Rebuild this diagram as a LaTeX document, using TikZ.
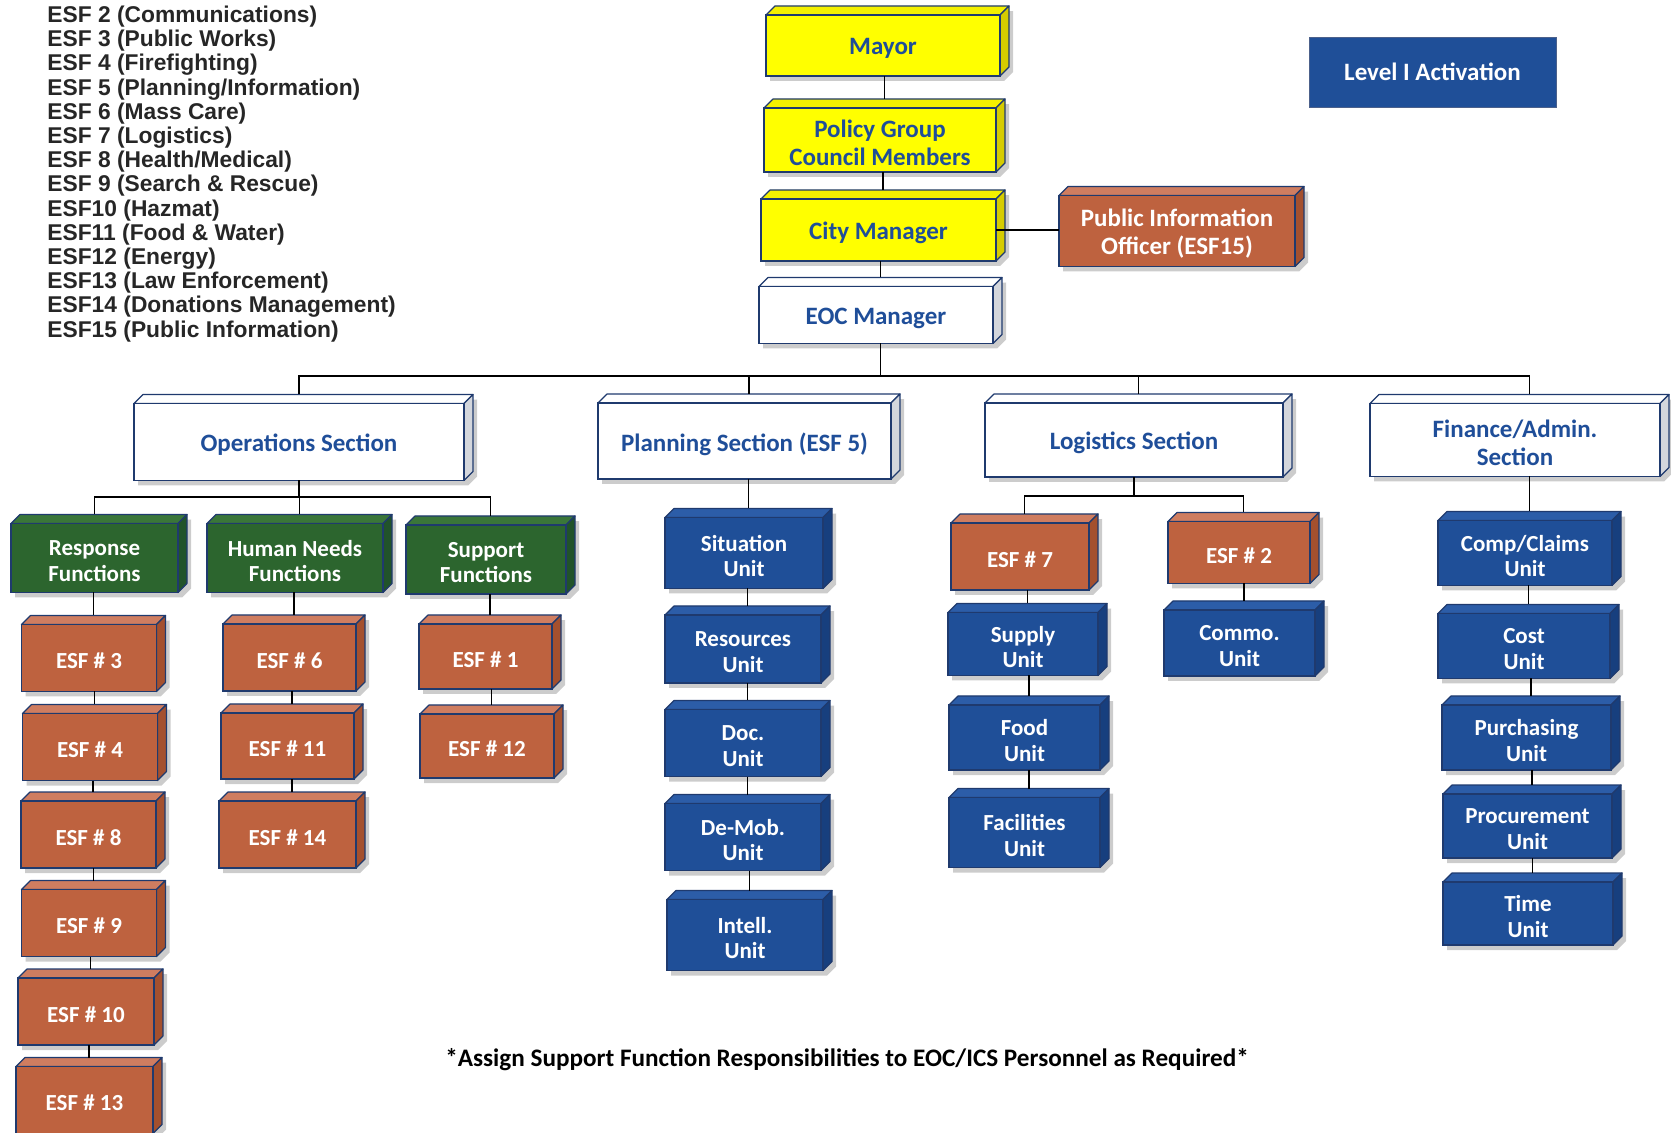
\documentclass[tikz,border=0pt]{standalone}
\usepackage{fontspec}
\setmainfont{Carlito}
\newfontfamily\listfont{Liberation Sans}
\definecolor{edgec}{HTML}{1F3A6E}
\definecolor{textblue}{HTML}{1F4E99}
\definecolor{yelfront}{HTML}{FFFF00}
\definecolor{yeltop}{HTML}{F4F000}
\definecolor{yelside}{HTML}{D6CC00}
\definecolor{yeltext}{HTML}{1F4E99}
\definecolor{whtfront}{HTML}{FFFFFF}
\definecolor{whttop}{HTML}{FFFFFF}
\definecolor{whtside}{HTML}{D3D6DC}
\definecolor{whttext}{HTML}{1F4E99}
\definecolor{orgfront}{HTML}{BE623F}
\definecolor{orgtop}{HTML}{CF7D60}
\definecolor{orgside}{HTML}{A4502E}
\definecolor{orgtext}{HTML}{FFFFFF}
\definecolor{grnfront}{HTML}{2C652E}
\definecolor{grntop}{HTML}{3A7639}
\definecolor{grnside}{HTML}{21532A}
\definecolor{grntext}{HTML}{FFFFFF}
\definecolor{blufront}{HTML}{1F4F98}
\definecolor{blutop}{HTML}{2C5DA8}
\definecolor{bluside}{HTML}{173F7E}
\definecolor{blutext}{HTML}{FFFFFF}
\def\cubedepth{9}
\tikzset{
  cubeedge/.style={draw=edgec, line width=0.6pt, line join=round},
  cubeshadow/.style={fill=black!50, opacity=0.4},
  cubefront/.style={draw=edgec, line width=0.6pt, inner sep=0pt, outer sep=0pt},
  cubetext/.style={inner sep=0pt, align=center, font=\bfseries\fontsize{11.5}{12.8}\selectfont},
  bigf/.style={font=\bfseries\fontsize{12.5}{14}\selectfont},
  link/.style={draw=black, line width=0.75pt},
  listline/.style={anchor=base west, inner sep=0pt,
    font=\listfont\bfseries\fontsize{11.4}{12}\selectfont, text=black!85},
  flatbox/.style={draw=edgec!80, line width=0.4pt, fill=blufront, text=white,
    inner sep=0pt, font=\bfseries\fontsize{12.5}{14}\selectfont},
  notetext/.style={font=\bfseries\fontsize{12.6}{14}\selectfont, text=black}
}
% \cube[text opts]{type}{name}{cx}{cy}{w}{h}{text}
\newcommand\cube[8][]{%
  \pgfmathsetmacro\xa{#4-#6/2}\pgfmathsetmacro\xb{#4+#6/2}%
  \pgfmathsetmacro\ya{#5-#7/2}\pgfmathsetmacro\yb{#5+#7/2}%
  \fill[cubeshadow] (\xa+4,\yb+5) -- (\xa+4,\ya+5) -- (\xb+\cubedepth+4,\ya-\cubedepth+5)
     -- (\xb+\cubedepth+4,\yb-\cubedepth+5) -- (\xb+4,\yb+5) -- cycle;
  \filldraw[cubeedge, fill=#2top] (\xa,\ya) -- (\xa+\cubedepth,\ya-\cubedepth)
     -- (\xb+\cubedepth,\ya-\cubedepth) -- (\xb,\ya) -- cycle;
  \filldraw[cubeedge, fill=#2side] (\xb,\ya) -- (\xb+\cubedepth,\ya-\cubedepth)
     -- (\xb+\cubedepth,\yb-\cubedepth) -- (\xb,\yb) -- cycle;
  \node[cubefront, fill=#2front, minimum width=#6*0.5pt,
     minimum height=#7*0.5pt] (#3) at (#4,#5) {};
  \node[cubetext, text=#2text, #1] (#3-txt) at (#4,#5+3) {#8};
  \coordinate (#3-t) at (#4+\cubedepth/2,\ya-\cubedepth);
}
\begin{document}
\begin{tikzpicture}[x=0.5pt,y=-0.5pt]
\useasboundingbox (0,0) rectangle (1671,1133);
% ESF list
\foreach \t [count=\i from 0] in {ESF 2 (Communications), ESF 3 (Public Works),
  ESF 4 (Firefighting), ESF 5 (Planning/Information), ESF 6 (Mass Care),
  ESF 7 (Logistics), ESF 8 (Health/Medical), ESF 9 (Search \& Rescue),
  ESF10 (Hazmat), ESF11 (Food \& Water), ESF12 (Energy), ESF13 (Law Enforcement),
  ESF14 (Donations Management), ESF15 (Public Information)}
  \node[listline] (lst\i) at (47,{22.5+24.2*\i}) {\t};
% top chain
\cube[bigf]{yel}{mayor}{883}{45.5}{234}{61}{Mayor}
\cube[bigf]{yel}{policy}{880}{140}{232}{64}{Policy Group\\Council Members}
\cube[bigf]{yel}{city}{878.5}{230}{235}{62}{City Manager}
\cube[bigf]{wht}{eoc}{876}{315}{234}{57}{EOC Manager}
\cube[bigf]{org}{pio}{1177}{231}{236}{71}{Public Information\\Officer (ESF15)}
\node[flatbox, minimum width=247*0.5pt, minimum height=70*0.5pt] (level) at (1432.5,72) {Level I Activation};
% sections
\cube[bigf]{wht}{ops}{299}{442}{330}{77}{Operations Section}
\cube[bigf]{wht}{plan}{744.5}{441}{293}{76}{Planning Section (ESF 5)}
\cube[bigf]{wht}{log}{1134}{440}{298}{74}{Logistics Section}
\cube[bigf]{wht}{fin}{1515}{440}{290}{73}{Finance/Admin.\\Section}
% operations groups
\cube{grn}{resp}{94.5}{558}{167}{69}{Response\\Functions}
\cube{grn}{human}{295}{558}{176}{69}{Human Needs\\Functions}
\cube{grn}{supp}{486}{559.5}{160}{69}{Support\\Functions}
\cube{org}{esf3}{89}{658}{135}{67}{ESF \# 3}
\cube{org}{esf4}{90}{747}{135}{67}{ESF \# 4}
\cube{org}{esf8}{88.5}{834.5}{135}{67}{ESF \# 8}
\cube{org}{esf9}{89}{923}{135}{67}{ESF \# 9}
\cube{org}{esf10}{86}{1011.5}{136}{67}{ESF \# 10}
\cube{org}{esf13}{84.5}{1100}{137}{67}{ESF \# 13}
\cube{org}{esf6}{289.5}{657.5}{133}{67}{ESF \# 6}
\cube{org}{esf11}{287.5}{746}{133}{66}{ESF \# 11}
\cube{org}{esf14}{287.5}{834.5}{137}{67}{ESF \# 14}
\cube{org}{esf1}{485.5}{656.5}{133}{65}{ESF \# 1}
\cube{org}{esf12}{487}{746}{134}{64}{ESF \# 12}
% planning units
\cube{blu}{sit}{744}{553}{158}{71}{Situation\\Unit}
\cube{blu}{res}{743}{649}{156}{68}{Resources\\Unit}
\cube{blu}{doc}{743}{743}{156}{67}{Doc.\\Unit}
\cube{blu}{demob}{743}{837}{156}{67}{De-Mob.\\Unit}
\cube{blu}{intell}{745}{935}{156}{71}{Intell.\\Unit}
% logistics
\cube{org}{esf7}{1020}{556.5}{138}{67}{ESF \# 7}
\cube{org}{esf2}{1239}{552.5}{142}{62}{ESF \# 2}
\cube{blu}{supply}{1023}{644}{150}{63}{Supply\\Unit}
\cube{blu}{food}{1024.5}{737.5}{151}{65}{Food\\Unit}
\cube{blu}{fac}{1024.5}{832.5}{151}{70}{Facilities\\Unit}
\cube{blu}{commo}{1239.5}{643}{151}{66}{Commo.\\Unit}
% finance
\cube{blu}{comp}{1525}{553}{174}{65}{Comp/Claims\\Unit}
\cube{blu}{cost}{1524}{646}{172}{65}{Cost\\Unit}
\cube{blu}{purch}{1526.5}{737.5}{169}{65}{Purchasing\\Unit}
\cube{blu}{proc}{1527.5}{826}{169}{64}{Procurement\\Unit}
\cube{blu}{time}{1528}{913.5}{170}{63}{Time\\Unit}
% connectors
\draw[link] (mayor.south -| policy-t) -- (policy-t);
\draw[link] (policy.south -| city-t) -- (city-t);
\draw[link] (city.south -| eoc-t) -- (eoc-t);
\draw[link] (city.east) -- (city.east -| pio.west);
\coordinate (bus) at (0,376);
\draw[link] (eoc.south -| eoc-t) -- (eoc-t |- bus);
\draw[link] (ops.north |- ops-t) |- (bus -| comp-t) -- (comp-t |- fin-t);
\draw[link] (plan-t) -- (plan-t |- bus);
\draw[link] (log-t) -- (log-t |- bus);
\coordinate (obus) at (0,497);
\draw[link] (ops.south) -- (ops.south |- obus);
\draw[link] (resp.north |- resp-t) |- (obus -| supp-t) -- (supp-t);
\draw[link] (human-t) -- (human-t |- obus);
\coordinate (lbus) at (0,496);
\draw[link] (log.south) -- (log.south |- lbus);
\draw[link] (esf7-t) |- (lbus -| esf2-t) -- (esf2-t);
\foreach \a/\b in {resp/esf3, esf3/esf4, esf4/esf8, esf8/esf9, esf9/esf10, esf10/esf13,
  human/esf6, esf6/esf11, esf11/esf14, supp/esf1, esf1/esf12,
  plan/sit, sit/res, res/doc, doc/demob, demob/intell,
  esf7/supply, supply/food, food/fac, esf2/commo,
  fin/comp, comp/cost, cost/purch, purch/proc, proc/time}
  \draw[link] (\b-t |- \a.south) -- (\b-t);
% note
\node[notetext] (note) at (847,1060) {*Assign Support Function Responsibilities to EOC/ICS Personnel as Required*};
\end{tikzpicture}
\end{document}
